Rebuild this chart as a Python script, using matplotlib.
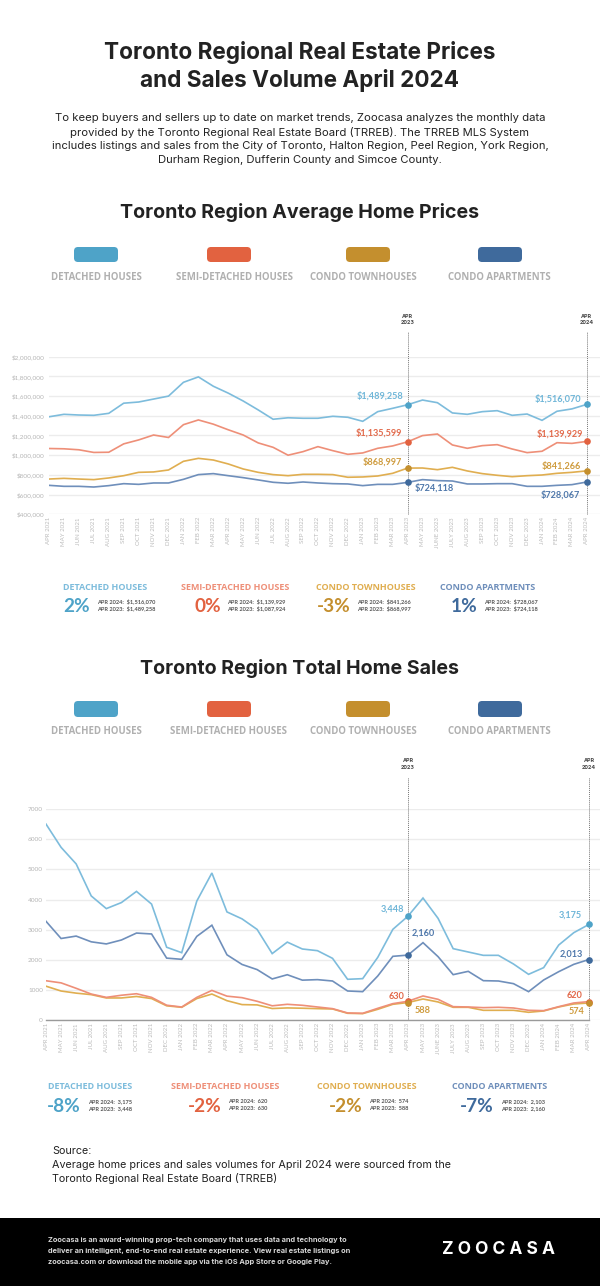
import matplotlib
matplotlib.use('Agg')
import matplotlib.pyplot as plt
from matplotlib.patches import FancyBboxPatch, Rectangle

W, H = 600, 1286
HEAD_FONT = 'Inter'
BODY_FONT = 'Lato'
LABEL_FONT = 'Open Sans'

months = ['APR 2021', 'MAY 2021', 'JUN 2021', 'JUL 2021', 'AUG 2021', 'SEP 2021', 'OCT 2021', 'NOV 2021', 'DEC 2021',
          'JAN 2022', 'FEB 2022', 'MAR 2022', 'APR 2022', 'MAY 2022', 'JUN 2022', 'JUL 2022', 'AUG 2022', 'SEP 2022',
          'OCT 2022', 'NOV 2022', 'DEC 2022', 'JAN 2023', 'FEB 2023', 'MAR 2023', 'APR 2023', 'MAY 2023', 'JUNE 2023',
          'JULY 2023', 'AUG 2023', 'SEP 2023', 'OCT 2023', 'NOV 2023', 'DEC 2023', 'JAN 2024', 'FEB 2024', 'MAR 2024',
          'APR 2024']

# average prices, in thousands
price_detached = [1390, 1415, 1408, 1405, 1425, 1528, 1540, 1570, 1600, 1740, 1795, 1700, 1630, 1550, 1460, 1365,
                  1380, 1375, 1375, 1395, 1385, 1344, 1442, 1476, 1512, 1560, 1533, 1429, 1415, 1442, 1452, 1405,
                  1418, 1354, 1446, 1470, 1516]
price_semi = [1068, 1065, 1055, 1028, 1030, 1115, 1155, 1205, 1180, 1310, 1358, 1315, 1258, 1205, 1125, 1080,
              1000, 1036, 1087, 1046, 1009, 1023, 1070, 1094, 1136, 1199, 1215, 1104, 1070, 1097, 1107, 1063,
              1026, 1040, 1127, 1120, 1140]
price_town = [758, 765, 758, 752, 769, 792, 826, 830, 850, 938, 968, 951, 911, 860, 826, 803, 792, 806, 806, 803,
              776, 779, 789, 816, 869, 870, 853, 877, 840, 813, 796, 782, 792, 799, 816, 826, 841]
price_apt = [694, 684, 684, 677, 691, 711, 704, 718, 718, 755, 803, 813, 792, 772, 749, 725, 715, 728, 718, 711,
             708, 691, 704, 704, 724, 752, 742, 738, 708, 708, 711, 711, 684, 684, 694, 701, 728]

sales_detached = [6500, 5730, 5180, 4120, 3700, 3900, 4270, 3850, 2420, 2240, 3950, 4880, 3590, 3360, 3010, 2210,
                  2590, 2362, 2307, 2053, 1358, 1380, 2086, 3013, 3448, 4050, 3377, 2373, 2263, 2152, 2152, 1865,
                  1523, 1744, 2494, 2903, 3175]
sales_semi = [1310, 1240, 1060, 870, 760, 830, 880, 760, 500, 440, 760, 990, 800, 750, 630, 480, 530, 497, 441,
              386, 243, 232, 397, 552, 630, 806, 695, 452, 441, 419, 430, 408, 331, 320, 452, 574, 620]
sales_town = [1130, 970, 900, 850, 740, 740, 790, 720, 480, 430, 720, 870, 650, 520, 510, 390, 410, 400, 386, 375,
              232, 221, 364, 530, 588, 706, 607, 430, 430, 331, 331, 331, 265, 309, 441, 541, 574]
sales_apt = [3280, 2710, 2790, 2600, 2530, 2660, 2890, 2860, 2060, 2020, 2780, 3150, 2170, 1850, 1680, 1370, 1510,
             1330, 1347, 1302, 971, 949, 1468, 2119, 2160, 2572, 2108, 1512, 1622, 1313, 1302, 1214, 949, 1335,
             1611, 1854, 2013]

names = ['DETACHED HOUSES', 'SEMI-DETACHED HOUSES', 'CONDO TOWNHOUSES', 'CONDO APARTMENTS']
dark = ['#4ea3c8', '#e26240', '#c48f2e', '#3f6a9c']
light = ['#7dbcdc', '#ee8f78', '#e0ae50', '#6f8fbb']
note_colors = ['#6fb6d8', '#e2694a', '#cf9c3f', '#4f78ab']

price_ticks = [400, 600, 800, 1000, 1200, 1400, 1600, 1800, 2000]
price_ticklabels = ['$400,000', '$600,000', '$800,000', '$1,000,000', '$1,200,000', '$1,400,000', '$1,600,000',
                    '$1,800,000', '$2,000,000']
sales_ticks = [0, 1000, 2000, 3000, 4000, 5000, 6000, 7000]

price_series = [price_detached, price_semi, price_town, price_apt]
sales_series = [sales_detached, sales_semi, sales_town, sales_apt]

# label text, series, month index, x offset px, y offset px, horizontal align
price_notes = [('$1,489,258', 0, 24, -4, -9, 'right'), ('$1,135,599', 1, 24, -6, -9, 'right'),
               ('$868,997', 2, 24, -6, -6, 'right'), ('$724,118', 3, 24, 7, 6, 'left'),
               ('$1,516,070', 0, 36, -6, -5, 'right'), ('$1,139,929', 1, 36, -4, -7, 'right'),
               ('$841,266', 2, 36, -6, -5, 'right'), ('$728,067', 3, 36, -7, 13, 'right')]
sales_notes = [('3,448', 0, 24, -4, -7, 'right'), ('2,160', 3, 24, 4, -22, 'left'),
               ('630', 1, 24, -3, -5, 'right'), ('588', 2, 24, 7, 8, 'left'),
               ('3,175', 0, 36, -7, -9, 'right'), ('2,013', 3, 36, -6, -5, 'right'),
               ('620', 1, 36, -6, -6, 'right'), ('574', 2, 36, -4, 9, 'right')]

fig = plt.figure(figsize=(W / 100, H / 100), dpi=100, facecolor='white')
bg = fig.add_axes([0, 0, 1, 1])
bg.set_xlim(0, W)
bg.set_ylim(H, 0)
bg.axis('off')


def txt(x, y, s, px, color='#222222', ha='center', weight='normal', family=BODY_FONT, **kw):
    bg.text(x, y, s, fontsize=px * 0.72, color=color, ha=ha, va='center', fontweight=weight, family=family, **kw)


def make_chart(series, ticks, ticklabels, ylim, left, step, top, bottom, notes, pad, label_top):
    ax = fig.add_axes([left / W, 1 - bottom / H, (W - left) / W, (bottom - top) / H])
    ax.patch.set_alpha(0)
    ax.set_xlim(0, (W - left) / step)
    ax.set_ylim(*ylim)
    for s in ax.spines.values():
        s.set_visible(False)
    ax.set_yticks(ticks)
    ax.set_yticklabels(ticklabels, family=BODY_FONT, fontsize=4.6, color='#b5b5b5')
    ax.set_xticks(range(len(months)))
    ax.set_xticklabels(months, rotation=90, family=BODY_FONT, fontsize=4.4, color='#bcbcbc')
    ax.tick_params(length=0)
    ax.tick_params(axis='y', pad=pad)
    ax.tick_params(axis='x', pad=2)
    ax.grid(axis='y', color='#ececec', lw=1.0)
    ax.set_axisbelow(True)
    for i in [3, 2, 1, 0]:
        ax.plot(range(len(months)), series[i], color=light[i], lw=1.2, solid_joinstyle='miter', zorder=3)
    for idx in [24, 36]:
        ax.axvline(idx, ymin=0, ymax=(bottom - label_top) / (bottom - top), color='#777777', lw=0.7, ls=(0, (1, 1)),
                   clip_on=False, zorder=2)
        for i in range(4):
            ax.plot(idx, series[i][idx], 'o', ms=4.8, color=dark[i], mew=0, zorder=4, clip_on=False)
        ax.annotate(months[idx].replace(' ', '\n'), (idx, 1), xycoords=ax.get_xaxis_transform(),
                    xytext=(0, (top - label_top + 7) * 0.72), textcoords='offset points', ha='center', va='bottom',
                    fontsize=3.9, fontweight='bold', color='#444444', family=HEAD_FONT, linespacing=1.35)
    for s, i, idx, dx, dy, ha in notes:
        ax.annotate(s, (idx, series[i][idx]), xytext=(dx * 0.72, -dy * 0.72), textcoords='offset points', ha=ha,
                    va='center', fontsize=6.6, color=note_colors[i], family=BODY_FONT,
                    fontweight='bold', zorder=5)
    return ax


def pills(y0, y1, label_y, label_x):
    for x0, c in zip([74, 207, 346, 478], dark):
        bg.add_patch(FancyBboxPatch((x0 + 4, y0 + 4), 36, y1 - y0 - 8, boxstyle='round,pad=4,rounding_size=4',
                                    fc=c, ec='none'))
    for x, n in zip(label_x, names):
        txt(x, label_y, n, 9.7, color='#b0b0b0', weight='bold', family=LABEL_FONT)


def summary(label_y, label_x, pct_y, pct_xc, pcts, small_ys, small_x, rows):
    for i in range(4):
        txt(label_x[i], label_y, names[i], 9.0, color=light[i], weight='bold', family=LABEL_FONT)
        txt(pct_xc[i], pct_y, pcts[i], 19, color=dark[i], weight='bold')
        txt(small_x[i], small_ys[0], 'APR 2024:  ' + rows[i][0], 5.6, color='#555555', ha='left', weight='bold')
        txt(small_x[i], small_ys[1], 'APR 2023:  ' + rows[i][1], 5.6, color='#555555', ha='left', weight='bold')


# header text
txt(300, 52, 'Toronto Regional Real Estate Prices', 22.6, weight='bold', family=HEAD_FONT)
txt(300, 80, 'and Sales Volume April 2024', 22.6, weight='bold', family=HEAD_FONT)
intro = ['To keep buyers and sellers up to date on market trends, Zoocasa analyzes the monthly data',
         'provided by the Toronto Regional Real Estate Board (TRREB). The TRREB MLS System',
         'includes listings and sales from the City of Toronto, Halton Region, Peel Region, York Region,',
         'Durham Region, Dufferin County and Simcoe County.']
for k, line in enumerate(intro):
    txt(300, 118 + 14 * k, line, 11.25, family=HEAD_FONT)

txt(300, 213, 'Toronto Region Average Home Prices', 19.6, weight='bold', family=HEAD_FONT)
pills(247, 262, 277, [96, 235, 363, 499.5])
make_chart(price_series, price_ticks, price_ticklabels, (400, 2000), 49, 14.94, 356.7, 514.3, price_notes, 3.1, 332)
summary(587.7, [105, 235.6, 365.4, 487.6], 607, [76.6, 207.5, 333.4, 464.4], ['2%', '0%', '-3%', '1%'],
        (602.5, 609.8), [97, 227.3, 357, 484.5],
        [('$1,516,070', '$1,489,258'), ('$1,139,929', '$1,087,924'), ('$841,266', '$868,997'),
         ('$728,067', '$724,118')])

txt(300, 668, 'Toronto Region Total Home Sales', 19.6, weight='bold', family=HEAD_FONT)
pills(701, 717, 732, [96, 228.5, 363, 499.5])
sales_ax = make_chart(sales_series, sales_ticks, [str(t) for t in sales_ticks], (0, 7000), 46, 15.08, 809, 1020.3,
                      sales_notes, 2.2, 776.7)
sales_ax.plot([0, 36], [0, 0], color='#9a9a9a', lw=1.0, zorder=2, clip_on=False)
summary(1086.7, [90, 225, 366.8, 500], 1106.7, [64, 204.7, 346, 476.8], ['-8%', '-2%', '-2%', '-7%'],
        (1101.5, 1109), [87.9, 228, 369, 500.7],
        [('3,175', '3,448'), ('620', '630'), ('574', '588'), ('2,103', '2,160')])

source = ['Source:', 'Average home prices and sales volumes for April 2024 were sourced from the',
          'Toronto Regional Real Estate Board (TRREB)']
for k, line in enumerate(source):
    txt(52, 1151 + 14 * k, line, 10.8, ha='left', family=HEAD_FONT)

bg.add_patch(Rectangle((0, 1218), W, H - 1218, fc='black', ec='none'))
footer = ['Zoocasa is an award-winning prop-tech company that uses data and technology to',
          'deliver an intelligent, end-to-end real estate experience. View real estate listings on',
          'zoocasa.com or download the mobile app via the iOS App Store or Google Play.']
for k, line in enumerate(footer):
    txt(48, 1240 + 10.8 * k, line, 7.4, color='#d8d8d8', ha='left', weight='bold', family=HEAD_FONT)
txt(498, 1250, 'Z O O C A S A', 17.4, color='white', weight='bold', family=HEAD_FONT)

fig.savefig('out.png', dpi=100)
